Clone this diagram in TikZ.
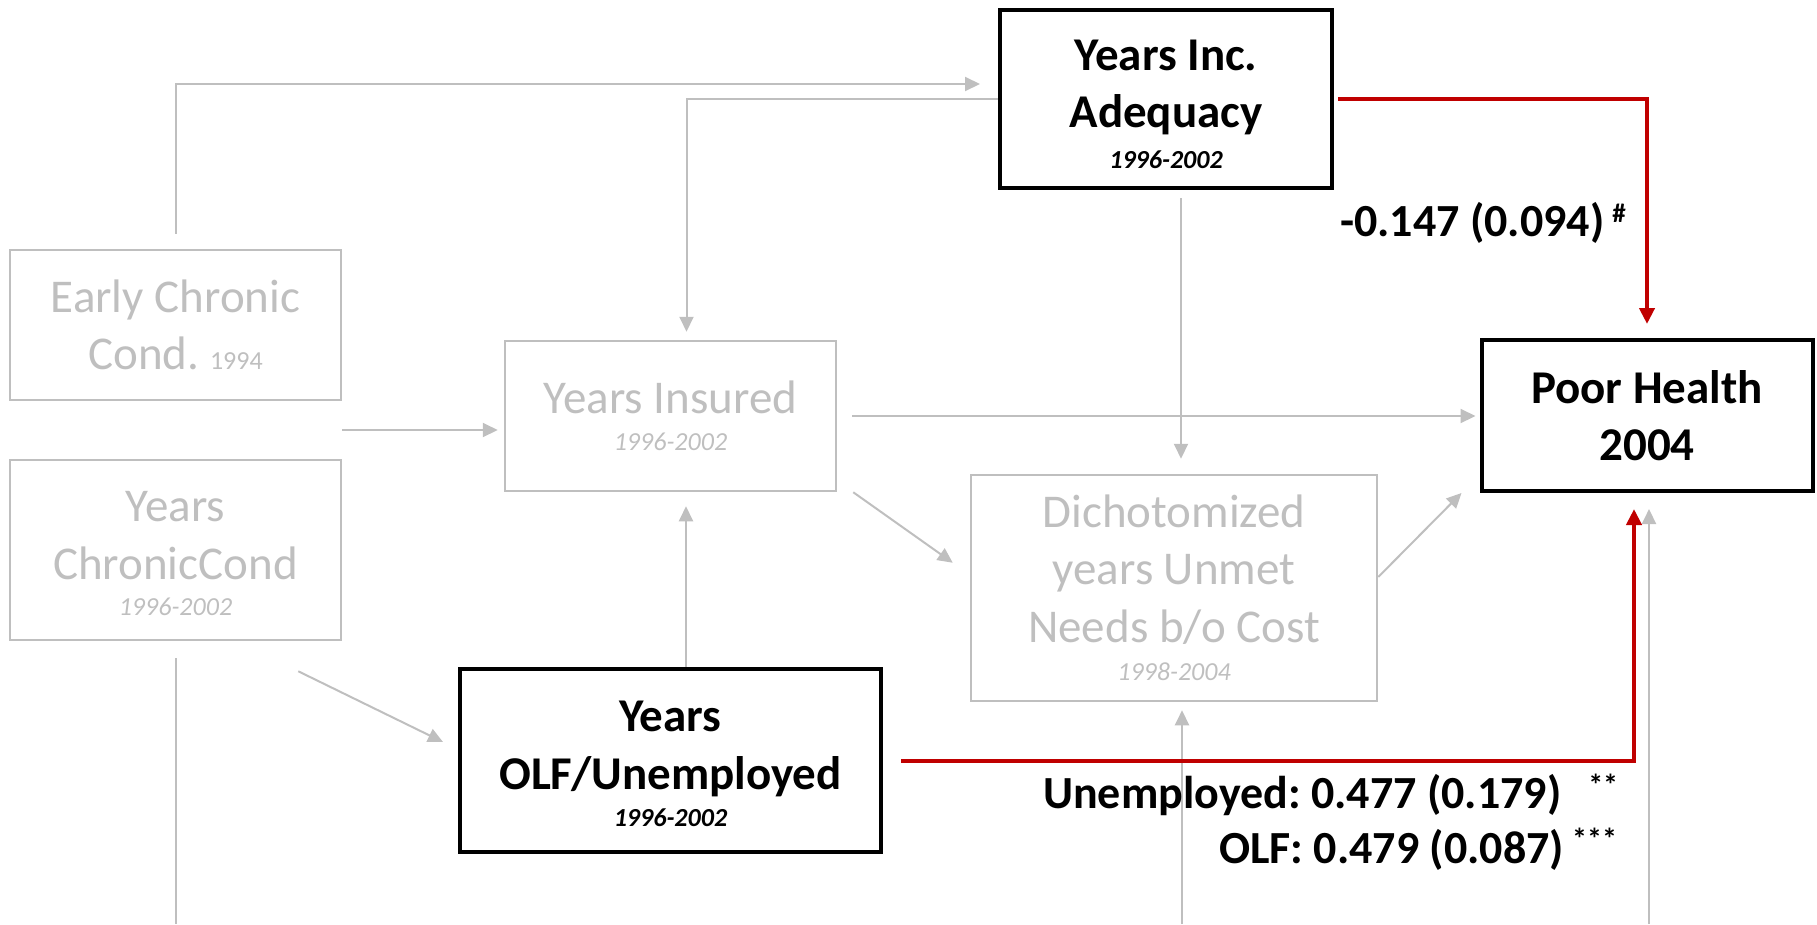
\documentclass[tikz,border=0pt]{standalone}
\usepackage{fontspec}
\setmainfont{Carlito}
\usetikzlibrary{arrows.meta,calc}
\definecolor{lg}{RGB}{191,191,191}
\definecolor{dred}{RGB}{192,0,0}
\newcommand\dtxt[1]{{\fontsize{26}{30}\selectfont\itshape #1}}
\newcommand\sstr[1]{\rule{0pt}{#1pt}}
\newcommand\starsig[2]{\raisebox{#1pt}{\fontsize{30}{34}\selectfont #2}}
\frenchspacing
\begin{document}
\begin{tikzpicture}[x=1pt,y=-1pt,
  boxbase/.style={rectangle, inner sep=0pt, align=center},
  darkbox/.style={boxbase, draw=black, line width=4pt, text=black, font=\fontsize{47}{57.5}\selectfont\bfseries},
  greybox/.style={boxbase, draw=lg, line width=2.5pt, text=lg, font=\fontsize{47}{57.5}\selectfont},
  garrow/.style={draw=lg, line width=2pt, -{Triangle[length=15pt,width=14pt]}},
  gline/.style={draw=lg, line width=2pt},
  rarrow/.style={draw=dred, line width=4pt, -{Triangle[length=16pt,width=15pt]}},
  lbl/.style={inner sep=0pt, text=black, font=\fontsize{46}{56}\selectfont\bfseries\frenchspacing}
]
\useasboundingbox (0,0) rectangle (1817,924);

% boxes
\node[darkbox, minimum width=332pt, minimum height=178pt] (yia) at (1166,99) {\sstr{41}Years Inc.\\Adequacy\\[-17pt]\dtxt{1996-2002}};
\node[darkbox, minimum width=331pt, minimum height=151pt] (ph) at (1647,415.5) {Poor Health\\2004};
\node[greybox, minimum width=331pt, minimum height=150pt] (ecc) at (175.5,325) {Early Chronic\\Cond. {\fontsize{26}{30}\selectfont 1994}};
\node[greybox, minimum width=331pt, minimum height=180pt] (ycc) at (175.5,550) {\sstr{38}Years\\ChronicCond\\[-21pt]\dtxt{1996-2002}};
\node[greybox, minimum width=331pt, minimum height=150pt] (yi) at (670.5,416) {Years Insured\\[-20pt]\dtxt{1996-2002}};
\node[greybox, minimum width=406pt, minimum height=226pt] (dich) at (1174,588) {Dichotomized\\years Unmet\\Needs b/o Cost\\[-19pt]\dtxt{1998-2004}};
\node[darkbox, minimum width=421pt, minimum height=183pt] (olf) at (670.5,760.5) {\sstr{38}Years\\OLF/Unemployed\\[-20pt]\dtxt{1996-2002}};

% helper coordinates
\coordinate (x686) at (686,0);
\coordinate (x1181) at (1181,0);
\coordinate (x1182) at (1182,0);
\coordinate (y430) at (0,430);
\coordinate (y577) at (0,577);
\coordinate (ybot) at (0,924);

% grey connectors
\draw[garrow, shorten <=15pt, shorten >=18pt] (ecc.north) |- ([yshift=15pt]yia.west);
\draw[garrow, shorten >=8pt] (yia.west) -| ([xshift=16pt]yi.north);
\draw[garrow, shorten <=8pt, shorten >=15pt] (yia.south -| x1181) -- (dich.north -| x1181);
\draw[garrow, shorten <=15pt, shorten >=4pt] (yi.east) -- (yi.east -| ph.west);
\draw[garrow, shorten >=6pt] (ecc.east |- y430) -- (yi.west |- y430);
\draw[garrow] ([xshift=16pt]yi.south east) -- ([xshift=-17pt,yshift=-89pt]dich.north west);
\draw[garrow] (dich.east |- y577) -- ([xshift=-18pt]ph.south west);
\draw[garrow] ([xshift=-44pt,yshift=-30pt]ycc.south east) -- ([xshift=-15pt,yshift=-75pt]olf.north west);
\draw[garrow, shorten >=14pt] (olf.north -| x686) -- (yi.south -| x686);
\draw[garrow, shorten >=16pt] ([xshift=2pt]ph.south |- ybot) -- ([xshift=2pt]ph.south);
\draw[garrow, shorten >=8pt] (x1182 |- ybot) -- (dich.south -| x1182);
\draw[gline, shorten <=17pt] (ycc.south) -- (ycc.south |- ybot);

% red connectors
\draw[rarrow, shorten <=4pt, shorten >=14pt] (yia.east) -| (ph.north);
\draw[rarrow, shorten <=18pt, shorten >=16pt] (olf.east) -| ([xshift=-13pt]ph.south);

% labels
\node[lbl, anchor=base west] (l1) at (1340,236) {-0.147 (0.094)\hspace{8pt}\raisebox{14pt}{\fontsize{27}{30}\selectfont\#}};
\node[lbl, anchor=base west] (l2) at (1043,808) {Unemployed: 0.477 (0.179)\hspace{27pt}\starsig{13}{**}};
\node[lbl, anchor=base west] (l3) at (1219,863) {OLF: 0.479 (0.087)\hspace{8pt}\starsig{14}{***}};
\end{tikzpicture}
\end{document}
